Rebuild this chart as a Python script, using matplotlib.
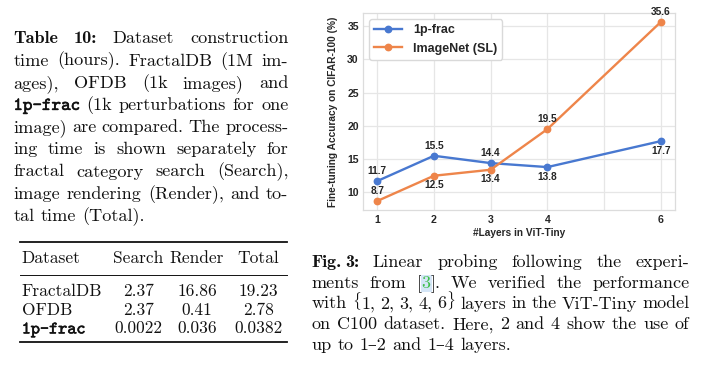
import matplotlib
matplotlib.use("Agg")
import matplotlib.pyplot as plt
import matplotlib.patheffects as pe
from matplotlib.font_manager import FontProperties
from matplotlib.transforms import IdentityTransform
from matplotlib.lines import Line2D

# ---------------- data ----------------
layers = [1, 2, 3, 4, 6]
frac_acc = [11.7, 15.5, 14.4, 13.8, 17.7]
imnet_acc = [8.7, 12.5, 13.4, 19.5, 35.6]
frac_label_side = [1, 1, 1, -1, -1]      # +1 above, -1 below
imnet_label_side = [1, -1, -1, 1, 1]
series_names = ["1p-frac", "ImageNet (SL)"]
x_label = "#Layers in ViT-Tiny"
y_label = "Fine-tuning Accuracy on CIFAR-100 (%)"
y_ticks = [10, 15, 20, 25, 30, 35]
x_grid = [1, 2, 3, 4, 5, 6]

table_header = ["Dataset", "Search", "Render", "Total"]
table_datasets = ["FractalDB", "OFDB", "1p-frac"]
table_search = ["2.37", "2.37", "0.0022"]
table_render = ["16.86", "0.41", "0.036"]
table_total = ["19.23", "2.78", "0.0382"]

left_caption = [
    "Table 10: Dataset construction",
    "time (hours). FractalDB (1M im-",
    "ages), OFDB (1k images) and",
    "1p-frac (1k perturbations for one",
    "image) are compared. The process-",
    "ing time is shown separately for",
    "fractal category search (Search),",
    "image rendering (Render), and to-",
    "tal time (Total).",
]
right_caption = [
    "Fig.~3: Linear probing following the experi-",
    "ments from [3]. We verified the performance",
    "with {1, 2, 3, 4, 6} layers in the ViT-Tiny model",
    "on C100 dataset. Here, 2 and 4 show the use of",
    "up to 1\u20132 and 1\u20134 layers.",
]
bold_words = {"Table", "10:", "Fig.", "3:"}
tt_words = {"1p-frac"}

# ---------------- figure ----------------
W, H = 708, 372
plt.rcParams["mathtext.fontset"] = "cm"
fig = plt.figure(figsize=(W / 100, H / 100), dpi=100)
fig.patch.set_facecolor("white")
renderer = fig.canvas.get_renderer()
IDT = IdentityTransform()
TXT = "#111111"

def fonts(size):
    return {
        "r": FontProperties(family=["cmr10", "DejaVu Serif"], size=size),
        "b": FontProperties(family=["cmb10", "DejaVu Serif"], size=size, weight="bold"),
        "tt": FontProperties(family=["cmtt10", "DejaVu Sans Mono"], size=size),
        "m": FontProperties(size=size * 0.86),
        "link": FontProperties(family=["cmr10", "DejaVu Serif"], size=size),
    }

def make_text(s, kind, fp):
    t = fig.text(0, 0, s, fontproperties=fp[kind], transform=IDT,
                 ha="left", va="baseline", color=TXT)
    if kind == "tt":
        t.set_path_effects([pe.withStroke(linewidth=0.4, foreground=TXT)])
    if kind == "link":
        t.set_color("#3fbf4a")
        t.set_bbox(dict(facecolor="#d5e6f7", edgecolor="none", pad=0.6))
    return t

def parse_word(w):
    if w in tt_words:
        return [(w, "tt")]
    if "~" in w:
        out = []
        parts = w.split("~")
        for k, p in enumerate(parts):
            if k:
                out.append(("0.17", "gap"))
            out.append((p, "b" if p in bold_words else "r"))
        return out
    if w in bold_words:
        return [(w, "b")]
    if "[3]" in w:
        i = w.index("[3]")
        return [(w[:i] + "[", "r"), ("3", "link"), ("]" + w[i + 3:], "r")]
    pieces = []
    buf = ""
    for ch in w:
        if ch in "{}":
            if buf:
                pieces.append((buf, "r"))
                buf = ""
            pieces.append((r"$\%s$" % ch, "m"))
        else:
            buf += ch
    if buf:
        pieces.append((buf, "r"))
    return pieces

def width_of(t):
    return t.get_window_extent(renderer).width

def paragraph(lines, x0, x1, base0, dy, size):
    fp = fonts(size)
    a = make_text("x x", "r", fp); b = make_text("xx", "r", fp)
    space = width_of(a) - width_of(b)
    a.remove(); b.remove()
    em = size * 100 / 72
    for i, line in enumerate(lines):
        words = []
        total = 0.0
        for w in line.split(" "):
            objs = []
            for s, kind in parse_word(w):
                if kind == "gap":
                    objs.append((None, float(s) * em))
                else:
                    t = make_text(s, kind, fp)
                    objs.append((t, width_of(t)))
            words.append(objs)
            total += sum(wd for _, wd in objs)
        last = i == len(lines) - 1
        gap = space if last else (x1 - x0 - total) / max(len(words) - 1, 1)
        x = x0
        y = H - (base0 + i * dy)
        for objs in words:
            for t, wd in objs:
                if t is not None:
                    t.set_position((x, y))
                x += wd
            x += gap

paragraph(left_caption, 13.3, 288.3, 43.3, 22.2, 13.1)
paragraph(right_caption, 311.7, 689.3, 267.3, 20.6, 13.0)

# ---------------- table ----------------
tfp = fonts(12.5)
def hline(y, lw):
    fig.add_artist(Line2D([20, 287], [H - y, H - y], transform=IDT, color=TXT, lw=lw))
hline(242.3, 1.3)
hline(275.0, 0.7)
hline(342.3, 1.3)
col_x = [21.7, 138.5, 197.0, 258.5]
def cell(s, kind, x, ybase, ha):
    t = make_text(s, kind, tfp)
    t.set_position((x, H - ybase))
    t.set_ha(ha)
for j, h in enumerate(table_header):
    cell(h, "r", col_x[j], 263.3, "left" if j == 0 else "center")
row_base = [295.6, 314.6, 333.4]
for i, name in enumerate(table_datasets):
    cell(name, "tt" if name in tt_words else "r", col_x[0], row_base[i], "left")
    for j, col in enumerate([table_search, table_render, table_total]):
        cell(col[i], "r", col_x[j + 1], row_base[i], "center")

# ---------------- chart ----------------
blue = "#4878d0"
orange = "#ee854a"
CT = "#262626"
sans = "Liberation Sans"
ax = fig.add_axes([363 / W, 1 - 210 / H, 312 / W, 197 / H])
ax.set_facecolor("white")
for sp in ax.spines.values():
    sp.set_color("#dcdcdc")
    sp.set_linewidth(0.9)
ax.grid(True, color="#e6e6e6", lw=0.9)
ax.set_axisbelow(True)

for vals, sides, col, name in [(frac_acc, frac_label_side, blue, series_names[0]),
                               (imnet_acc, imnet_label_side, orange, series_names[1])]:
    ax.plot(layers, vals, "-o", color=col, lw=1.7, ms=4.6, label=name, zorder=3)
    for xv, yv, sd in zip(layers, vals, sides):
        ax.annotate(f"{yv:.1f}", (xv, yv), xytext=(0, 7 * sd), textcoords="offset points",
                    ha="center", va="center", fontsize=7.3, fontweight="bold",
                    family=sans, color=CT, zorder=4)

ax.set_xticks(x_grid)
ax.set_xticklabels([str(v) if v in layers else "" for v in x_grid])
ax.set_yticks(y_ticks)
ax.set_xlim(0.75, 6.25)
ax.set_ylim(7.355, 36.945)
ax.tick_params(length=0, labelsize=7.6, colors=CT)
ax.tick_params(axis="x", pad=3.5)
ax.tick_params(axis="y", pad=3.0)
for lab in ax.get_xticklabels() + ax.get_yticklabels():
    lab.set_fontweight("bold")
    lab.set_family(sans)
ax.set_xlabel(x_label, fontsize=7.3, fontweight="bold", family=sans, color=CT, labelpad=2.0)
ax.set_ylabel(y_label, fontsize=7.3, fontweight="bold", family=sans, color=CT, labelpad=6.5)
leg = ax.legend(loc="upper left", prop=FontProperties(family=sans, weight="bold", size=9.0),
                handlelength=2.2, handletextpad=0.9, labelspacing=0.5,
                frameon=True, fancybox=True, edgecolor="#d9d9d9", framealpha=1.0)
for t in leg.get_texts():
    t.set_color(CT)

fig.savefig("out.png", dpi=100, facecolor="white")
